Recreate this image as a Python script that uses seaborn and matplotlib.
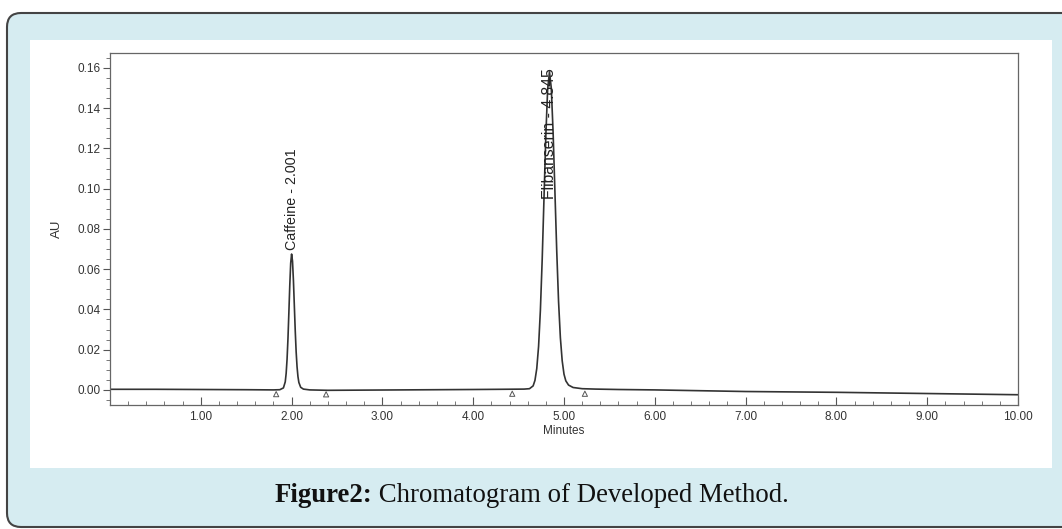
import matplotlib
matplotlib.use("Agg")
import matplotlib.pyplot as plt
from matplotlib.patches import FancyBboxPatch, Rectangle
from matplotlib.transforms import IdentityTransform
from matplotlib.ticker import MultipleLocator, FormatStrFormatter
import seaborn as sns
import pandas as pd

# ----------------- Data -----------------
minutes = [0.00, 0.50, 1.00, 1.50, 1.80, 1.87, 1.91, 1.93, 1.94, 1.95, 1.96, 1.97,
           1.98, 1.99, 2.00, 2.01, 2.02, 2.03, 2.04, 2.05, 2.06, 2.07, 2.08,
           2.10, 2.13, 2.20, 2.40, 2.80, 3.20, 3.60, 4.00, 4.30, 4.56, 4.62, 4.66,
           4.68, 4.70, 4.72, 4.74, 4.76, 4.78, 4.80, 4.82, 4.84, 4.86, 4.88, 4.90,
           4.92, 4.94, 4.96, 4.98, 5.00, 5.02, 5.05, 5.10, 5.20, 5.35, 5.60, 6.00,
           6.50, 7.00, 7.50, 8.00, 8.50, 9.00, 9.50, 10.00]
au = [0.0003, 0.0003, 0.0002, 0.0001, 0.0000, 0.0001, 0.0010, 0.0040, 0.0082, 0.0152,
      0.0255, 0.0385, 0.0520, 0.0630, 0.0675, 0.0640, 0.0545, 0.0420, 0.0295, 0.0190,
      0.0115, 0.0066, 0.0037, 0.0013, 0.0004, 0.0000, -0.0002, -0.0001,
      0.0000, 0.0001, 0.0002, 0.0003, 0.0004, 0.0006, 0.0020, 0.0047, 0.0106, 0.0216,
      0.0396, 0.0650, 0.0958, 0.1265, 0.1495, 0.1580, 0.1500, 0.1280, 0.0985, 0.0690,
      0.0440, 0.0260, 0.0145, 0.0078, 0.0045, 0.0024, 0.0012, 0.0006, 0.0004, 0.0002,
      0.0000, -0.0004, -0.0008, -0.0010, -0.0012, -0.0015, -0.0018, -0.0021, -0.0024]

# integration start/end marks
mark_min = [1.83, 2.38, 4.43, 5.23]
mark_au = [-0.0021, -0.0022, -0.0019, -0.0019]

peak_names = ["Caffeine - 2.001", "Flibanserin - 4.845"]
peak_x = [2.00, 4.845]
peak_y = [0.0695, 0.0950]
peak_size = [10.3, 11.3]

caption_bold = "Figure2:"
caption_rest = " Chromatogram of Developed Method."

df = pd.DataFrame({"Minutes": minutes, "AU": au})

# ----------------- Figure -----------------
sns.set_style("ticks")
plt.rcParams["font.family"] = ["Liberation Sans", "DejaVu Sans"]

W, H = 1062, 529
fig = plt.figure(figsize=(W / 100, H / 100), dpi=100)
fig.patch.set_facecolor("white")

outer = FancyBboxPatch((7, 2), W + 30, 514, boxstyle="round,pad=0,rounding_size=14",
                       transform=IdentityTransform(), facecolor="#d6ecf1",
                       edgecolor="#444444", linewidth=1.5, zorder=0)
fig.add_artist(outer)
panel = Rectangle((30, 61), 1022, 428, transform=IdentityTransform(),
                  facecolor="white", edgecolor="none", zorder=0.5)
fig.add_artist(panel)

ax = fig.add_axes([110 / W, 1 - 405 / H, (1018 - 110) / W, (405 - 53) / H])
ax.set_facecolor("white")
ax.set_zorder(2)

sns.lineplot(data=df, x="Minutes", y="AU", ax=ax, color="#333333", linewidth=1.2,
             estimator=None, sort=False)
ax.scatter(mark_min, mark_au, marker="^", s=14, facecolors="none",
           edgecolors="#555555", linewidths=0.7, zorder=3)

for name, x, y, fs in zip(peak_names, peak_x, peak_y, peak_size):
    ax.text(x, y, name, rotation=90, ha="center", va="bottom", fontsize=fs,
            color="#222222")

ax.set_xlim(0, 10)
ax.set_ylim(-0.0075, 0.1674)
ax.xaxis.set_major_locator(MultipleLocator(1))
ax.xaxis.set_minor_locator(MultipleLocator(0.2))
ax.yaxis.set_major_locator(MultipleLocator(0.02))
ax.yaxis.set_minor_locator(MultipleLocator(0.005))
ax.xaxis.set_major_formatter(FormatStrFormatter("%.2f"))
ax.yaxis.set_major_formatter(FormatStrFormatter("%.2f"))
ax.set_xticks([t for t in range(1, 11)])

ax.tick_params(axis="x", which="major", direction="in", length=6, width=0.8,
               color="#555555", labelsize=8.5, labelcolor="#333333", pad=4)
ax.tick_params(axis="x", which="minor", direction="in", length=3, width=0.7,
               color="#777777")
ax.tick_params(axis="y", which="major", direction="out", length=5, width=0.8,
               color="#555555", labelsize=8.5, labelcolor="#333333", pad=2)
ax.tick_params(axis="y", which="minor", direction="out", length=3, width=0.7,
               color="#777777")
for s in ax.spines.values():
    s.set_color("#666666")
    s.set_linewidth(0.9)

ax.set_xlabel("Minutes", fontsize=8.5, color="#333333", labelpad=2)
ax.set_ylabel("AU", fontsize=9.5, color="#333333", labelpad=10)

# ----------------- Caption -----------------
t1 = fig.text(0, 27 / H, caption_bold, fontsize=16, fontweight="bold",
              family=["Liberation Serif", "DejaVu Serif"], color="#111111")
t2 = fig.text(0, 27 / H, caption_rest, fontsize=16,
              family=["Liberation Serif", "DejaVu Serif"], color="#111111")
r = fig.canvas.get_renderer()
w1 = t1.get_window_extent(r).width
w2 = t2.get_window_extent(r).width
scale = 515 / (w1 + w2)
t1.set_fontsize(16 * scale)
t2.set_fontsize(16 * scale)
w1 = t1.get_window_extent(r).width
w2 = t2.get_window_extent(r).width
x0 = 532 - (w1 + w2) / 2
t1.set_x(x0 / W)
t2.set_x((x0 + w1) / W)

fig.savefig("out.png", dpi=100, facecolor=fig.get_facecolor())
